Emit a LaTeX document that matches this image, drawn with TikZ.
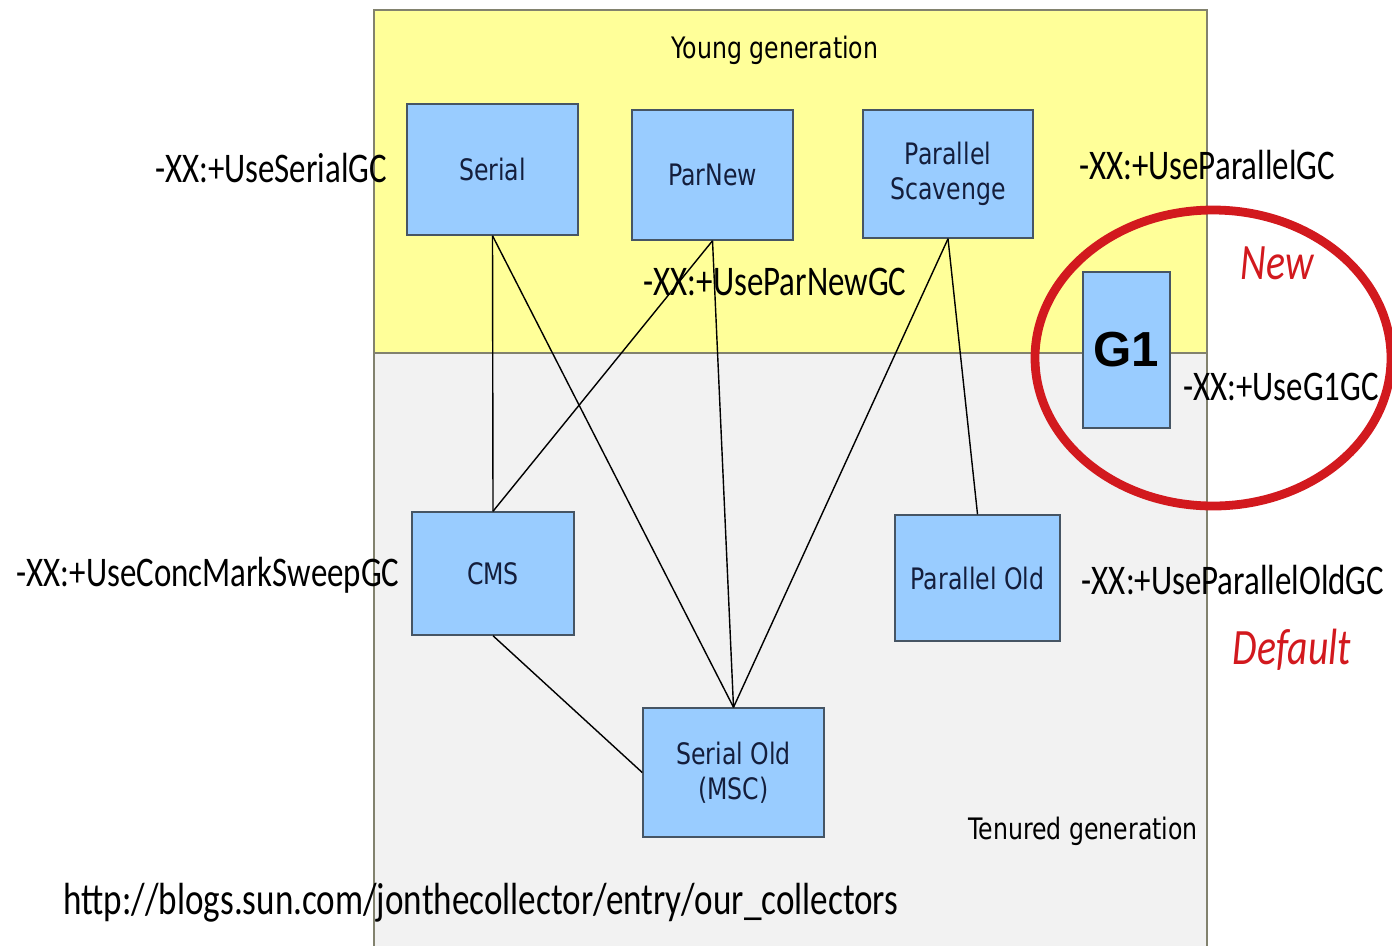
\documentclass[tikz,border=0pt]{standalone}
\usepackage{fontspec}
\setmainfont{DejaVu Sans}[FakeStretch=0.8]
\newfontfamily\optfont{Carlito}[FakeStretch=0.78]
\newfontfamily\gfont{Liberation Sans}
\definecolor{youngfill}{RGB}{255,255,153}
\definecolor{tenfill}{RGB}{242,242,242}
\definecolor{boxfill}{RGB}{153,204,255}
\definecolor{boxline}{RGB}{70,85,100}
\definecolor{boxtext}{RGB}{20,30,60}
\definecolor{newred}{RGB}{210,25,30}
\definecolor{genline}{RGB}{130,130,110}
\begin{document}
\begin{tikzpicture}[x=0.01cm,y=-0.01cm,
    gc/.style={shape=rectangle,draw=boxline,fill=boxfill,text=boxtext,font=\fontsize{8.4}{9.8}\selectfont,align=center,inner sep=0pt},
    gen/.style={font=\fontsize{8.4}{10}\selectfont,inner sep=0pt},
    opt/.style={font=\optfont\fontsize{12}{14}\selectfont,inner sep=0pt},
    note/.style={font=\optfont\itshape\fontsize{14.5}{16}\selectfont,text=newred,inner sep=0pt}]
    \useasboundingbox (0,0) rectangle (1392,945);
    \fill[white] (0,0) rectangle (1392,945);
    \filldraw[fill=youngfill,draw=genline] (374,10) rectangle (1207,353);
    \filldraw[fill=tenfill,draw=genline] (374,353) rectangle (1207,950);
    \node[gen] (young) at (775,50) {Young generation};
    \node[gen] (tenured) at (1083,831) {Tenured generation};
    \node[gc,minimum width=1.71cm,minimum height=1.31cm] (serial) at (492.5,169.5) {Serial};
    \node[gc,minimum width=1.61cm,minimum height=1.30cm] (parnew) at (712.5,175) {ParNew};
    \node[gc,minimum width=1.70cm,minimum height=1.28cm] (scavenge) at (948,174) {Parallel\\Scavenge};
    \node[gc,minimum width=0.87cm,minimum height=1.56cm,font=\gfont\bfseries\fontsize{14}{16}\selectfont,text=black] (g1) at (1126.5,350) {G1};
    \node[gc,minimum width=1.62cm,minimum height=1.23cm] (cms) at (493,573.5) {CMS};
    \node[gc,minimum width=1.65cm,minimum height=1.26cm] (parold) at (977.5,578) {Parallel Old};
    \node[gc,minimum width=1.81cm,minimum height=1.29cm] (serialold) at (733.5,772.5) {Serial Old\\(MSC)};
    \draw (serial.south) -- (cms.north);
    \draw (serial.south) -- (serialold.north);
    \draw (parnew.south) -- (cms.north);
    \draw (parnew.south) -- (serialold.north);
    \draw (scavenge.south) -- (serialold.north);
    \draw (scavenge.south) -- (parold.north);
    \draw (cms.south) -- (serialold.west);
    \node[opt] (serialopt) at (271,168) {-XX:+UseSerialGC};
    \node[opt] (parnewopt) at (775,282) {-XX:+UseParNewGC};
    \node[opt] (scavengeopt) at (1207,165) {-XX:+UseParallelGC};
    \node[opt] (g1opt) at (1281,387) {-XX:+UseG1GC};
    \node[opt] (cmsopt) at (208,575) {-XX:+UseConcMarkSweepGC};
    \node[opt] (paroldopt) at (1233,580) {-XX:+UseParallelOldGC};
    \node[opt,font=\optfont\fontsize{12.8}{15}\selectfont] (url) at (481,903) {http://blogs.sun.com/jonthecollector/entry/our\_collectors};
    \node[note] (new) at (1277,263) {New};
    \node[note] (default) at (1292,650) {Default};
    \draw[newred,line width=2.5pt] (1213,358) ellipse [x radius=178,y radius=148];
\end{tikzpicture}
\end{document}
